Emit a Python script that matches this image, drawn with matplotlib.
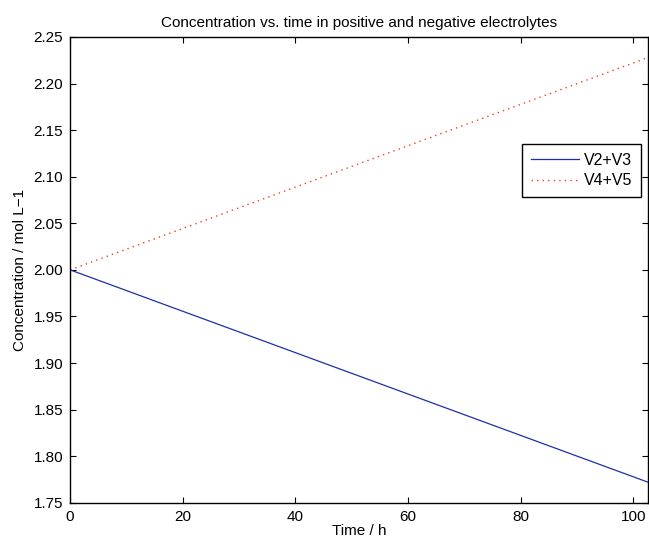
import numpy as np
import matplotlib
matplotlib.use("Agg")
from matplotlib import pyplot as plt

plt.rcParams['font.family'] = ['Liberation Sans', 'DejaVu Sans']

# time in hours and total concentrations (endpoints)
time_h = [0.0, 102.7]
v2_v3 = [2.000, 1.772]
v4_v5 = [2.000, 2.228]

xticks = [0, 20, 40, 60, 80, 100]
yticks = [1.75, 1.80, 1.85, 1.90, 1.95, 2.00, 2.05, 2.10, 2.15, 2.20, 2.25]

fig = plt.figure(figsize=(6.49, 5.43), dpi=100)
ax = fig.add_axes([0.108, 0.074, 0.891, 0.858])

ax.plot(time_h, v2_v3, color='#1f2fa8', lw=0.9, label='V2+V3')
ax.plot(time_h, v4_v5, color='#f04020', lw=1.0, ls=(0, (1, 3)), label='V4+V5')

ax.set_xlim(0, 102.7)
ax.set_ylim(1.75, 2.25)
ax.set_xticks(xticks)
ax.set_yticks(yticks)
ax.set_yticklabels([f'{v:.2f}' for v in yticks])
ax.tick_params(direction='in', top=True, right=True, labelsize=11, length=4, width=0.8, pad=5)
for s in ax.spines.values():
    s.set_linewidth(1.0)

ax.set_xlabel('Time / h', fontsize=11, labelpad=0)
ax.set_ylabel('Concentration / mol L\u22121', fontsize=11, labelpad=5)
ax.set_title('Concentration vs. time in positive and negative electrolytes', fontsize=11, pad=7)

leg = ax.legend(loc='upper right', bbox_to_anchor=(0.988, 0.770), fontsize=11.5,
                fancybox=False, framealpha=1, edgecolor='black', borderpad=0.55,
                handlelength=3.0, handletextpad=0.35, labelspacing=0.35, borderaxespad=0)
leg.get_frame().set_linewidth(1.0)

fig.savefig('out.png', dpi=100)
